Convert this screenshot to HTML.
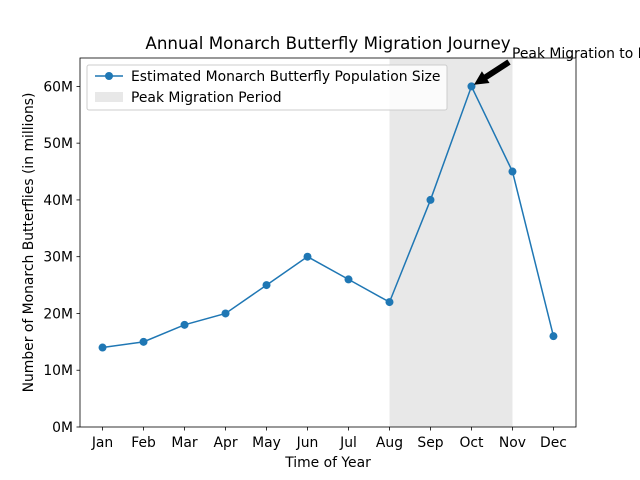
<!DOCTYPE html>
<html><head><meta charset="utf-8"><style>
body{margin:0;background:#fff;}
svg{display:block;font-family:"DejaVu Sans","Liberation Sans",sans-serif;}
</style></head><body>
<svg id="chart" width="640" height="480" viewBox="0 0 640 480"></svg>
<script>
const categories=["Jan","Feb","Mar","Apr","May","Jun","Jul","Aug","Sep","Oct","Nov","Dec"];
const population=[14,15,18,20,25,30,26,22,40,60,45,16];
const yTicks=[0,10,20,30,40,50,60];
const peakStart=7, peakEnd=10, peakIndex=9;
const L=80,R=576,T=58,B=427,xmin=-0.55,xmax=11.55,ymin=0,ymax=65;
const X=i=>L+(i-xmin)/(xmax-xmin)*(R-L);
const Y=v=>B-(v-ymin)/(ymax-ymin)*(B-T);
const svg=document.getElementById('chart');const NS='http://www.w3.org/2000/svg';
function mk(tag,attrs,parent){const e=document.createElementNS(NS,tag);for(const k in attrs)e.setAttribute(k,attrs[k]);(parent||svg).appendChild(e);return e;}
let r=mk('rect',{x:X(peakStart),y:T,width:X(peakEnd)-X(peakStart),height:B-T,fill:'#e8e8e8'});


let pts=population.map((v,i)=>X(i)+','+Y(v)).join(' ');
let pl=mk('polyline',{points:pts,fill:'none',stroke:'#1f77b4','stroke-width':1.5});


population.forEach((v,i)=>{let c=mk('circle',{cx:X(i),cy:Y(v),r:4,fill:'#1f77b4'});

});
let ax=mk('rect',{x:L,y:T,width:R-L,height:B-T,fill:'none',stroke:'#000','stroke-width':0.8});


categories.forEach((c,i)=>{mk('line',{x1:X(i),x2:X(i),y1:B,y2:B+3.5,stroke:'#000','stroke-width':0.8});
let t=mk('text',{x:X(i),y:B+20,'text-anchor':'middle','font-size':13.9});t.textContent=c;

});
yTicks.forEach(v=>{mk('line',{x1:L-3.5,x2:L,y1:Y(v),y2:Y(v),stroke:'#000','stroke-width':0.8});
let t=mk('text',{x:L-7,y:Y(v)+5,'text-anchor':'end','font-size':13.9});t.textContent=v+'M';

});
let tt=mk('text',{x:(L+R)/2,y:49,'text-anchor':'middle','font-size':16.7});tt.textContent='Annual Monarch Butterfly Migration Journey';

let xt=mk('text',{x:(L+R)/2,y:467,'text-anchor':'middle','font-size':13.9});xt.textContent='Time of Year';

let yt=mk('text',{x:0,y:0,'text-anchor':'middle','font-size':13.9,transform:`translate(33,${(T+B)/2}) rotate(-90)`});yt.textContent='Number of Monarch Butterflies (in millions)';

const px=X(peakIndex),py=Y(population[peakIndex]);
const ax2=509,ay2=62;
const dx=px-ax2,dy=py-ay2,len=Math.hypot(dx,dy),ux=dx/len,uy=dy/len,nx=-uy,ny=ux;
const hx=px-ux*3,hy=py-uy*3,bx=hx-ux*14,by=hy-uy*14;
let arr=mk('polygon',{points:[[ax2+nx*3,ay2+ny*3],[bx+nx*3,by+ny*3],[bx+nx*7,by+ny*7],[hx,hy],[bx-nx*7,by-ny*7],[bx-nx*3,by-ny*3],[ax2-nx*3,ay2-ny*3]].map(p=>p.join(',')).join(' '),fill:'#000'});

let at=mk('text',{x:512,y:58,'font-size':13.9});at.textContent='Peak Migration to Mexico';

let lg=mk('g',{});
mk('rect',{x:87,y:65,width:360,height:45,fill:'#fff','fill-opacity':0.8,stroke:'#ccc',rx:2},lg);
mk('line',{x1:95,x2:123,y1:76,y2:76,stroke:'#1f77b4','stroke-width':1.5},lg);
mk('circle',{cx:109,cy:76,r:4,fill:'#1f77b4'},lg);
let l1=mk('text',{x:131,y:81,'font-size':13.9},lg);l1.textContent='Estimated Monarch Butterfly Population Size';

mk('rect',{x:95,y:92,width:28,height:10,fill:'#e8e8e8'},lg);
let l2=mk('text',{x:131,y:102,'font-size':13.9},lg);l2.textContent='Peak Migration Period';

</script></body></html>
